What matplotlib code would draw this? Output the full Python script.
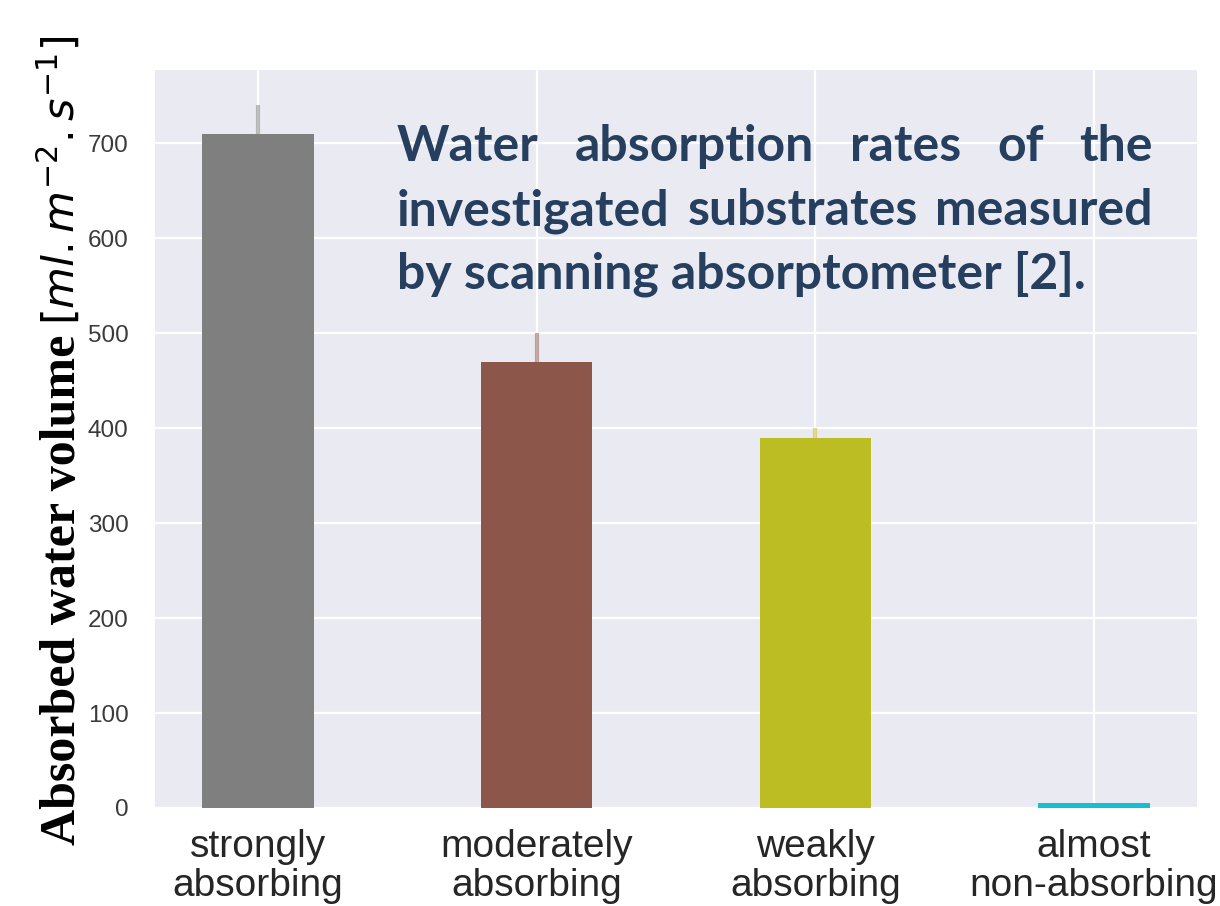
import matplotlib
matplotlib.use("Agg")
import matplotlib.pyplot as plt
import numpy as np

# Substrate classes and measured absorption rates
categories = ["strongly\nabsorbing", "moderately\nabsorbing", "weakly\nabsorbing", "almost\nnon-absorbing"]
absorbed = [710, 470, 390, 5]
err_up = [30, 30, 10, 0]
bar_colors = ["#7f7f7f", "#8c564b", "#bcbd22", "#17becf"]
yticks = [0, 100, 200, 300, 400, 500, 600, 700]
caption_lines = [
    "Water absorption rates of the",
    "investigated substrates measured",
    "by scanning absorptometer [2].",
]
ylabel_text = "Absorbed water volume"
ylabel_unit = r"$[ml.m^{-2}.s^{-1}]$"

plt.rcParams["mathtext.fontset"] = "dejavusans"

W, H = 1220, 906
fig = plt.figure(figsize=(W / 100, H / 100), dpi=100)
fig.patch.set_facecolor("white")
ax = fig.add_axes([155 / W, 1 - 808 / H, (1197 - 155) / W, (808 - 70) / H])
ax.set_facecolor("#eaeaf2")

x = np.arange(len(categories))
ax.bar(x, absorbed, width=0.4, color=bar_colors, zorder=3)
for xi, v, e, c in zip(x, absorbed, err_up, bar_colors):
    if e > 0:
        ax.errorbar(xi, v, yerr=[[0], [e]], fmt="none", ecolor=c, alpha=0.5,
                    elinewidth=3, capsize=0, zorder=2)

ax.set_xlim(-0.37, 3.37)
ax.set_ylim(0, 777)
ax.set_xticks(x)
ax.set_xticklabels(categories, fontsize=28, color="#262626",
                   family="Liberation Sans", linespacing=1.12)
ax.set_yticks(yticks)
ax.set_yticklabels([str(t) for t in yticks], fontsize=17.5, color="#3a3a3a",
                   family="Liberation Sans")
ax.tick_params(axis="both", length=0)
ax.tick_params(axis="y", pad=19)
ax.tick_params(axis="x", pad=15)
ax.grid(True, color="white", linewidth=1.6)
ax.set_axisbelow(True)
for s in ax.spines.values():
    s.set_visible(False)

renderer = fig.canvas.get_renderer()

# Vertical axis title: bold serif words followed by the unit in math text
base_x = 75 / W
t1 = fig.text(base_x, 1 - 845 / H, ylabel_text, rotation=90,
              rotation_mode="anchor", ha="left", va="baseline",
              fontsize=36, family="Liberation Serif", fontweight="bold",
              color="black")
len1 = t1.get_window_extent(renderer).height
fig.text(base_x, 1 - (845 - len1 - 10) / H, ylabel_unit, rotation=90,
         rotation_mode="anchor", ha="left", va="baseline",
         fontsize=31, color="black")

# Justified caption inside the plotting area
cap_kw = dict(fontsize=36, family="Lato", fontweight="bold", color="#263f5f",
              va="baseline", ha="left")
left_px, right_px = 397, 1153
baselines = [161, 225, 288]
for i, (line, yb) in enumerate(zip(caption_lines, baselines)):
    words = line.split()
    yf = 1 - yb / H
    if i < len(caption_lines) - 1:
        arts = [fig.text(0, yf, w, **cap_kw) for w in words]
        widths = [a.get_window_extent(renderer).width for a in arts]
        gap = (right_px - left_px - sum(widths)) / (len(words) - 1)
        xpos = left_px
        for a, wd in zip(arts, widths):
            a.set_x(xpos / W)
            xpos += wd + gap
    else:
        fig.text(left_px / W, yf, line, **cap_kw)

fig.savefig("out.png", dpi=100)
